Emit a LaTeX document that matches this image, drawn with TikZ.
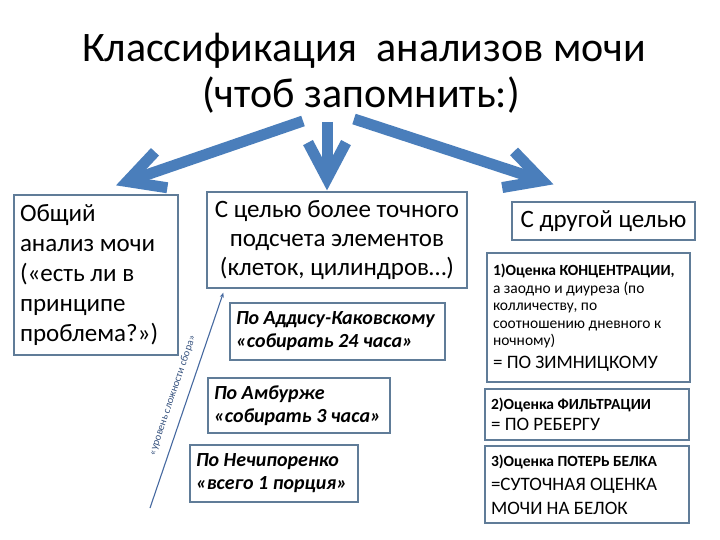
\documentclass[tikz,border=0pt]{standalone}
\usepackage{fontspec}
\setmainfont{Carlito}
\usetikzlibrary{arrows.meta,calc}

\definecolor{arrowblue}{RGB}{74,126,187}
\definecolor{boxline}{RGB}{96,124,152}
\definecolor{levelblue}{RGB}{70,105,160}
\newcommand{\fsz}[2]{\fontsize{#1}{#2}\selectfont}

\begin{document}
\begin{tikzpicture}[x=1pt, y=-1pt,
  box/.style={rectangle, draw=boxline, line width=1.3pt, fill=white, inner xsep=6pt, inner ysep=3pt},
  bigarrow/.style={draw=arrowblue, line width=11pt, -{Straight Barb[length=36pt, width=38pt, sharp]}},
  levelarrow/.style={draw=levelblue, line width=1.1pt, -{Stealth[length=5pt, width=4pt]}},
  big/.style={font=\fsz{25}{29}},
  ital/.style={font=\bfseries\itshape\fsz{20}{23}},
  small/.style={font=\fsz{15.5}{17.5}},
  lvllabel/.style={font=\fsz{10.5}{11}, text=levelblue!80!black, inner sep=1pt},
]
\path[use as bounding box, fill=white] (0,0) rectangle (720,540);

% title
\node[font=\fsz{42}{46}, anchor=base] (title1) at (364,62) {Классификация~ анализов мочи};
\node[font=\fsz{42}{46}, anchor=base] (title2) at (361,108) {(чтоб запомнить:)};
\coordinate (fork) at (329,119);

% === left: general analysis ===
\node[box, big, font=\fsz{25}{30}, align=flush left, text width=152pt, minimum height=160pt] (gen) at (96,275)
  {Общий\\анализ мочи\\(«есть ли в\\принципе\\проблема?»)};

% === middle: counting of elements ===
\node[box, big, align=flush center, text width=248pt, minimum height=96pt] (prec) at (337,240)
  {С целью более точного\\подсчета элементов\\(клеток, цилиндров…)};
\node[box, ital, align=flush left, text width=203pt, minimum height=57pt] (addis) at (337.5,331.5)
  {По Аддису-Каковскому\\«собирать 24 часа»};
\node[box, ital, align=flush left, text width=170pt, minimum height=55pt] (amb) at (299,405.5)
  {По Амбурже\\«собирать 3 часа»};
\node[box, ital, align=flush left, text width=156pt, minimum height=57pt] (nech) at (274,473.5)
  {По Нечипоренко\\«всего 1 порция»};

% === right: other purpose ===
\node[box, big, align=flush center, text width=171pt, minimum height=38pt] (other) at (603.5,221)
  {С другой целью};
\node[box, small, align=flush left, text width=191pt, minimum height=129pt] (conc) at (588.5,317.5)
  {\textbf{1)Оценка КОНЦЕНТРАЦИИ,}\\а заодно и диуреза (по\\колличеству, по\\соотношению дневного к\\ночному)\\[5pt]
   {\fsz{19}{21}= ПО ЗИМНИЦКОМУ}};
\node[box, small, align=flush left, text width=192pt, minimum height=51pt] (filt) at (587,414.5)
  {\textbf{2)Оценка ФИЛЬТРАЦИИ}\\[4pt]{\fsz{19}{21}= ПО РЕБЕРГУ}};
\node[box, small, align=flush left, text width=192pt, minimum height=77pt] (prot) at (587,484.5)
  {\textbf{3)Оценка ПОТЕРЬ БЕЛКА}\\{\fsz{19}{24}=СУТОЧНАЯ ОЦЕНКА\\МОЧИ НА БЕЛОК\par}};

% big arrows
\draw[bigarrow] ($(fork)+(-26,2)$) -- ($(gen.north)+(20,-9)$);
\draw[bigarrow] ($(fork)+(-2,3)$) -- ($(prec.north)+(-10,-1)$);
\draw[bigarrow] ($(fork)+(25,0)$) -- ($(other.north)+(-50,-17)$);

% level of difficulty
\coordinate (lvlstart) at (150,508);
\draw[levelarrow] (lvlstart) -- ($(prec.south west)+(17,4)$)
  node[midway, sloped, above=9pt, lvllabel] {«уровень сложности сбора»};

\end{tikzpicture}
\end{document}
